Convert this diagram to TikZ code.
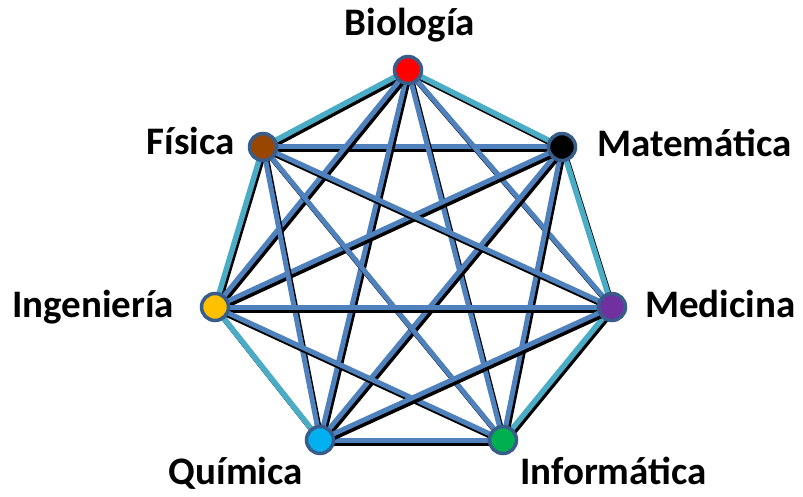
\documentclass[tikz,border=0pt]{standalone}
\usepackage{fontspec}
\setmainfont{Carlito}
\definecolor{outerc}{HTML}{4BACC6}
\definecolor{innerc}{HTML}{4F81BD}
\definecolor{ringc}{HTML}{385D8A}
\tikzset{
  vertex/.style={circle, draw=ringc, line width=3.5pt, minimum size=27pt, inner sep=0pt},
  outeredge/.style={draw=outerc, line width=5.5pt},
  inneredge/.style={draw=innerc, line width=5pt},
  shadowedge/.style={draw=black, line width=5pt, transform canvas={xshift=2pt, yshift=-3pt}},
  lbl/.style={font=\fontsize{39}{41}\selectfont\bfseries, inner sep=0pt}
}
\begin{document}
\begin{tikzpicture}[x=1pt,y=-1pt]
\useasboundingbox (0,0) rectangle (803,497);
\coordinate (bio) at (408,70);
\coordinate (fis) at (263,147);
\coordinate (mat) at (562,147);
\coordinate (ing) at (215,307);
\coordinate (med) at (612,307);
\coordinate (qui) at (320,440);
\coordinate (inf) at (503,440);
\foreach \a/\b/\s in {
  bio/fis/outeredge, bio/mat/outeredge, mat/med/outeredge, med/inf/outeredge,
  qui/ing/outeredge, ing/fis/outeredge,
  fis/mat/inneredge, qui/inf/inneredge,
  bio/med/inneredge, bio/inf/inneredge, bio/qui/inneredge, bio/ing/inneredge,
  mat/inf/inneredge, mat/qui/inneredge, mat/ing/inneredge,
  fis/med/inneredge, fis/inf/inneredge, fis/qui/inneredge,
  ing/med/inneredge, ing/inf/inneredge, med/qui/inneredge}{
  \draw[shadowedge] (\a) -- (\b);
  \draw[\s] (\a) -- (\b);
}
\node[vertex, fill=red] (nbio) at (bio) {};
\node[vertex, fill={rgb,255:red,153;green,71;blue,0}] (nfis) at (fis) {};
\node[vertex, fill=black] (nmat) at (mat) {};
\node[vertex, fill={rgb,255:red,255;green,192;blue,0}] (ning) at (ing) {};
\node[vertex, fill={rgb,255:red,112;green,48;blue,160}] (nmed) at (med) {};
\node[vertex, fill={rgb,255:red,0;green,176;blue,240}] (nqui) at (qui) {};
\node[vertex, fill={rgb,255:red,0;green,176;blue,80}] (ninf) at (inf) {};
\node[lbl, anchor=base] (tbio) at (410,36) {Biología};
\node[lbl, anchor=base east] (tfis) at (235,155) {Física};
\node[lbl, anchor=base west] (tmat) at (597,157) {Matemática};
\node[lbl, anchor=base west] (ting) at (12,317) {Ingeniería};
\node[lbl, anchor=base west] (tmed) at (645,317) {Medicina};
\node[lbl, anchor=base east] (tqui) at (303,484) {Química};
\node[lbl, anchor=base west] (tinf) at (520,484) {Informática};
\end{tikzpicture}
\end{document}
